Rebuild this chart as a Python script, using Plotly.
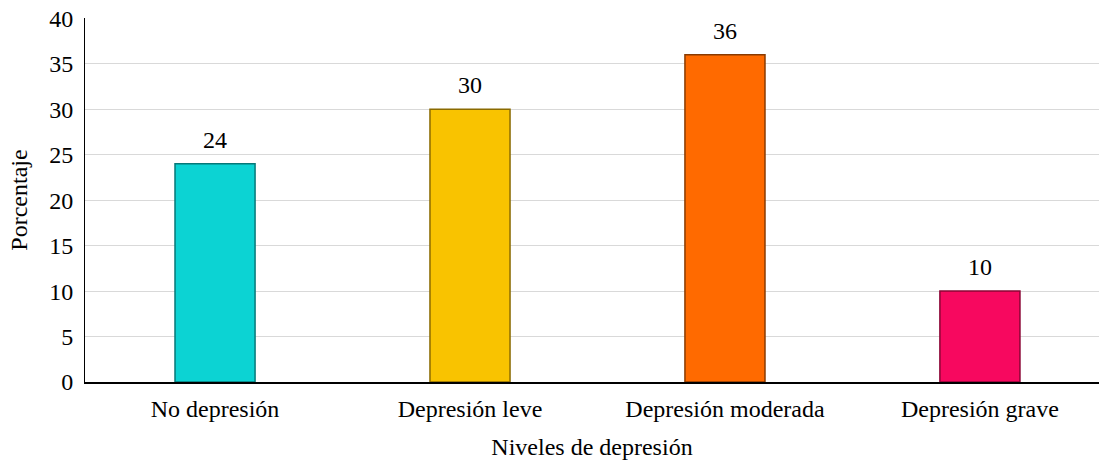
import plotly.graph_objects as go

categories = ["No depresión", "Depresión leve", "Depresión moderada", "Depresión grave"]
values = [24, 30, 36, 10]
colors = ["#0CD3D3", "#F9C300", "#FF6A00", "#F7085F"]
edge_colors = ["#067878", "#8A6A00", "#8A3A00", "#8A0535"]

font_family = "Liberation Serif, Times New Roman, serif"

fig = go.Figure()
fig.add_trace(go.Bar(
    x=categories,
    y=values,
    width=0.314,
    marker=dict(color=colors, line=dict(color=edge_colors, width=1.5)),
    showlegend=False,
    hoverinfo="x+y",
))

for c, v in zip(categories, values):
    fig.add_annotation(
        x=c, y=v, text=str(v), showarrow=False,
        yshift=24, font=dict(family=font_family, size=24, color="#000000"),
    )

fig.update_layout(
    width=1099,
    height=464,
    margin=dict(l=85, r=0, t=18, b=82, autoexpand=False),
    paper_bgcolor="white",
    plot_bgcolor="white",
    font=dict(family=font_family, size=24, color="#000000"),
    xaxis=dict(
        range=[-0.51, 3.467],
        showline=True,
        linecolor="#000000",
        linewidth=1.5,
        ticks="",
        showgrid=False,
        automargin=False,
        ticklabelstandoff=4,
        title=dict(text="Niveles de depresión", font=dict(family=font_family, size=24), standoff=18),
        tickfont=dict(family=font_family, size=24),
    ),
    yaxis=dict(
        range=[0, 40.05],
        tickvals=[0, 5, 10, 15, 20, 25, 30, 35, 40],
        showline=True,
        linecolor="#000000",
        linewidth=1,
        showgrid=True,
        gridcolor="#D9D9D9",
        gridwidth=1,
        zeroline=False,
        ticks="",
        automargin=False,
        ticklabelstandoff=6,
        tickfont=dict(family=font_family, size=24),
        title=dict(text="Porcentaje", font=dict(family=font_family, size=24), standoff=14),
    ),
)

fig.write_html(
    "out.html",
    config={"displayModeBar": False},
    post_script="document.body.style.margin='0';document.body.style.padding='0';",
)
